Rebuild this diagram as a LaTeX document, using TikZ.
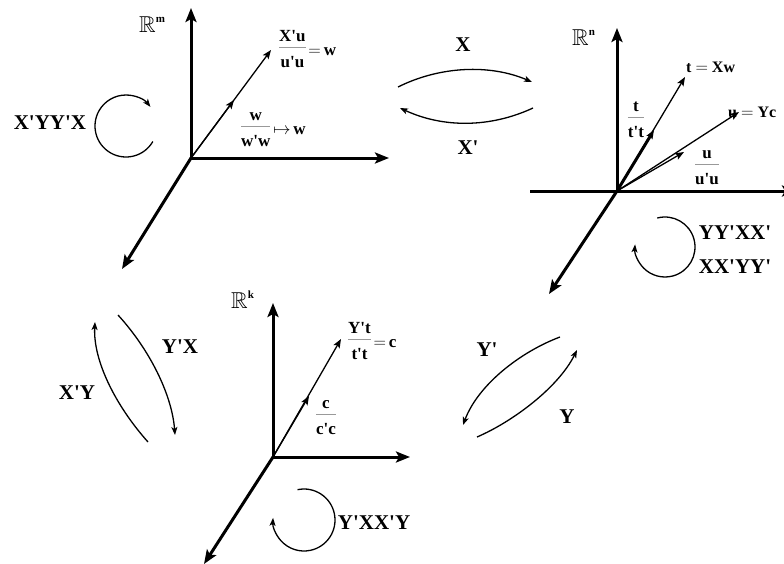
\documentclass[tikz,border=0pt]{standalone}
\usepackage{fontspec}
\setmainfont{Liberation Serif}
\usepackage{amssymb}
\usepackage{colortbl}
\usetikzlibrary{arrows.meta}
\newcommand{\p}{\textquotesingle}
\newcommand{\fr}[2]{{\arrayrulecolor[gray]{0.6}\setlength{\arrayrulewidth}{1pt}\setlength{\tabcolsep}{0pt}\begin{tabular}{@{}c@{}}#1\\[-1pt]\hline\rule{0pt}{2.6ex}#2\end{tabular}}}
\newcommand{\RR}[1]{$\mathbb{R}^{\hbox{\fontsize{11}{12}\selectfont\bfseries #1}}$}
\begin{document}
\begin{tikzpicture}[x=1pt,y=-1pt,
  axis/.style={line width=3pt,-{Stealth[length=14pt,width=11pt,inset=3pt]}},
  vec/.style={line width=1.3pt,-{Stealth[length=9pt,width=7pt,inset=2pt]}},
  curv/.style={line width=1.3pt,-{Stealth[length=8pt,width=6pt,inset=2pt]}},
  lbl/.style={font=\fontsize{21}{24}\selectfont\bfseries, inner sep=0pt},
  sm/.style={font=\fontsize{17}{19}\selectfont\bfseries, inner sep=0pt},
  vl/.style={font=\fontsize{16}{18}\selectfont\bfseries, inner sep=0pt},
  rr/.style={font=\fontsize{23}{25}\selectfont, inner sep=0pt, anchor=base west}]
\useasboundingbox (0,0) rectangle (784,563);
% ---------- top-left space R^m
\coordinate (O1) at (191,158);
\coordinate (O1u) at (191,8);
\coordinate (O1r) at (389,158);
\coordinate (O1d) at (122,269);
\coordinate (w1) at (271,50);
\coordinate (w1m) at (234,100);
\draw[axis] (O1) -- (O1u);
\draw[axis] (O1) -- (O1r);
\draw[axis] (O1) -- (O1d);
\draw[vec] (O1) -- (w1);
\draw[vec] (O1) -- (w1m);
\node[rr] (Rm) at (139,32) {\RR{m}};
\node[sm, anchor=west] (fw1) at (279,51) {\fr{X\p u}{u\p u}\,$=$\,w};
\node[sm, anchor=west] (fw2) at (241,130) {\fr{w}{w\p w}\,$\mapsto$\,w};
\node[lbl] (XYYX) at (50,123) {X\p YY\p X};
\draw[curv] (126,126) ++(30:31) arc[start angle=30, end angle=322, radius=31];
% ---------- top maps
\coordinate (a1) at (398,87); \coordinate (a2) at (532,82);
\coordinate (b1) at (533,108); \coordinate (b2) at (400,108);
\draw[curv] (a1) .. controls (440,66) and (490,64) .. (a2);
\draw[curv] (b1) .. controls (490,128) and (443,128) .. (b2);
\node[lbl] (Xl) at (463,45) {X};
\node[lbl] (Xpl) at (468,148) {X\p};
% ---------- top-right space R^n
\coordinate (O2) at (617,191);
\coordinate (O2u) at (617,28);
\coordinate (O2l) at (530,191);
\coordinate (O2r) at (796,191);
\coordinate (O2d) at (549,294);
\coordinate (t2) at (685,77);
\coordinate (t2m) at (654,130);
\coordinate (u2) at (739,112);
\coordinate (u2m) at (684,152);
\draw[axis] (O2) -- (O2u);
\draw[axis] (O2l) -- (O2r);
\draw[axis] (O2) -- (O2d);
\draw[vec] (O2) -- (t2);
\draw[line width=3pt, shorten >=6pt] (O2) -- (t2m);
\draw[vec] (O2) -- (t2m);
\draw[vec] (O2) -- (u2);
\draw[vec] (O2) -- (u2m);
\node[rr] (Rn) at (572,45) {\RR{n}};
\node[vl, anchor=west] (tX) at (686,67) {t $=$ Xw};
\node[vl, anchor=west] (uY) at (728,112) {u $=$ Yc};
\node[sm] (ft) at (636,121) {\fr{t}{t\p t}};
\node[sm] (fu) at (707,168) {\fr{u}{u\p u}};
\node[lbl] (YYXX) at (735,233) {YY\p XX\p};
\node[lbl] (XXYY) at (735,267) {XX\p YY\p};
\draw[curv] (665,247) ++(255:30) arc[start angle=255, end angle=545, radius=30];
% ---------- bottom-left maps
\coordinate (c1) at (118,315); \coordinate (c2) at (175,435);
\coordinate (d1) at (148,442); \coordinate (d2) at (95,322);
\draw[curv] (c1) .. controls (150,350) and (172,395) .. (c2);
\draw[curv] (d1) .. controls (115,405) and (93,360) .. (d2);
\node[lbl] (YX) at (180,347) {Y\p X};
\node[lbl] (XY) at (77,393) {X\p Y};
% ---------- bottom space R^k
\coordinate (O3) at (273,457);
\coordinate (O3u) at (273,303);
\coordinate (O3r) at (410,457);
\coordinate (O3d) at (204,564);
\coordinate (c3) at (341,339);
\coordinate (c3m) at (309,396);
\draw[axis] (O3) -- (O3u);
\draw[axis] (O3) -- (O3r);
\draw[axis] (O3) -- (O3d);
\draw[vec] (O3) -- (c3);
\draw[vec] (O3) -- (c3m);
\node[rr] (Rk) at (231,308) {\RR{k}};
\node[sm, anchor=west] (fc1) at (348,343) {\fr{Y\p t}{t\p t}\,$=$\,c};
\node[sm] (fc2) at (326,418) {\fr{c}{c\p c}};
\node[lbl] (YXXY) at (374,523) {Y\p XX\p Y};
\draw[curv] (304,520) ++(258:31) arc[start angle=258, end angle=544, radius=31];
% ---------- bottom-right maps
\coordinate (e1) at (560,337); \coordinate (e2) at (463,425);
\coordinate (f1) at (477,437); \coordinate (f2) at (577,350);
\draw[curv] (e1) .. controls (520,352) and (478,385) .. (e2);
\draw[curv] (f1) .. controls (512,422) and (558,388) .. (f2);
\node[lbl] (Yp) at (487,350) {Y\p};
\node[lbl] (Yl) at (567,417) {Y};
\end{tikzpicture}
\end{document}
